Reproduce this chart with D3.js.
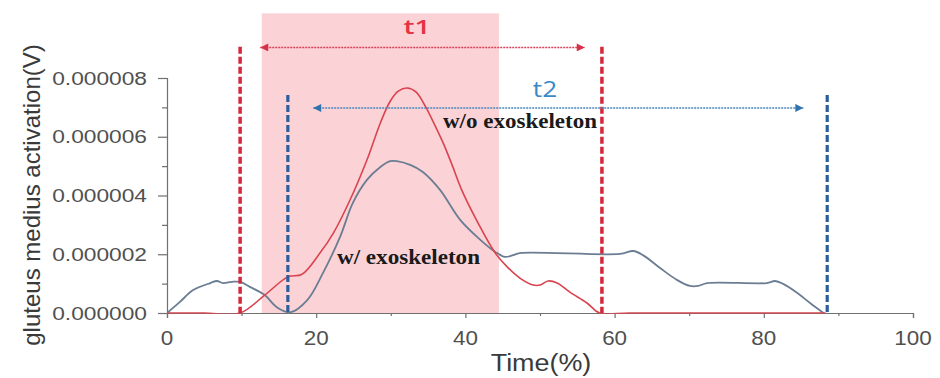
<!DOCTYPE html>
<html>
<head>
<meta charset="utf-8">
<script src="https://cdn.jsdelivr.net/npm/d3@7"></script>
<style>
  html, body { margin: 0; padding: 0; background: #fff; }
  svg { display: block; }
</style>
</head>
<body>
<svg id="chart" width="940" height="378"></svg>
<script>
// ---------- data ----------
const xTicks = [0, 20, 40, 60, 80, 100];
const xMinorTicks = [10, 30, 50, 70, 90];
const yTicks = [0, 0.000002, 0.000004, 0.000006, 0.000008];
const yMinorTicks = [0.000001, 0.000003, 0.000005, 0.000007];

// w/o exoskeleton (red)
const woTime = [0, 5, 9.8, 13.1, 16.2, 18.1, 20.5, 22.3, 24.5, 26.8, 28.6, 29.9, 31.0, 32.2, 33.4, 34.6, 35.8, 37.0, 38.2, 39.5, 41.7, 44.0, 45.6, 47.3, 49.1, 50.0, 51.1, 52.3, 54.0, 56.3, 58.0, 62, 75, 88.3];
const woValue = [0, 0, 0, 0.61e-6, 1.23e-6, 1.32e-6, 2.04e-6, 2.72e-6, 3.83e-6, 5.21e-6, 6.47e-6, 7.20e-6, 7.55e-6, 7.66e-6, 7.52e-6, 7.05e-6, 6.45e-6, 5.80e-6, 5.05e-6, 4.19e-6, 3.06e-6, 2.04e-6, 1.57e-6, 1.19e-6, 0.95e-6, 0.95e-6, 1.09e-6, 1.02e-6, 0.71e-6, 0.34e-6, 0, 0, 0, 0];

// w/ exoskeleton (blue-grey)
const wTime = [0, 1.7, 3.5, 5.8, 6.7, 7.5, 8.7, 9.8, 11.1, 13.1, 14.7, 16.5, 18.8, 20.9, 23.2, 24.9, 26.8, 28.6, 29.9, 30.8, 32.6, 34.3, 36.6, 39.3, 42.0, 44.0, 45.3, 46.4, 47.3, 60.7, 62.5, 63.8, 66.1, 68.4, 70.1, 71.2, 72.4, 80.4, 81.5, 82.6, 84.5, 86.2, 88.0];
const wValue = [0, 0.37e-6, 0.78e-6, 1.02e-6, 1.09e-6, 1.02e-6, 1.06e-6, 1.06e-6, 0.89e-6, 0.61e-6, 0.20e-6, 0.02e-6, 0.44e-6, 1.36e-6, 2.59e-6, 3.74e-6, 4.53e-6, 4.97e-6, 5.17e-6, 5.17e-6, 5.04e-6, 4.80e-6, 4.19e-6, 3.17e-6, 2.49e-6, 2.08e-6, 1.91e-6, 1.97e-6, 2.04e-6, 2.01e-6, 2.11e-6, 1.97e-6, 1.53e-6, 1.12e-6, 0.92e-6, 0.92e-6, 1.02e-6, 1.02e-6, 1.09e-6, 0.99e-6, 0.68e-6, 0.34e-6, 0];

// annotations
const shadeRange = [12.7, 44.5];
const shadeTop = 10.2e-6;
const t1Lines = [9.8, 58.3];
const t1LineTop = 9.06e-6;
const t2Lines = [16.2, 88.5];
const t2LineTop = 7.42e-6;
const t1Arrow = [12.5, 56.0];
const t1ArrowY = 9.04e-6;
const t2Arrow = [19.6, 85.3];
const t2ArrowY = 6.98e-6;
const labels = ["t1", "t2", "w/o exoskeleton", "w/ exoskeleton"];
const xTitle = "Time(%)";
const yTitle = "gluteus medius activation(V)";

// ---------- chart ----------
const svg = d3.select("#chart");
const x = d3.scaleLinear().domain([0, 100]).range([167, 913]);
const y = d3.scaleLinear().domain([0, 0.000008]).range([313, 78]);

const sans = "'Liberation Sans', Arial, sans-serif";
const serif = "'Liberation Serif', 'Times New Roman', serif";

// shaded region
svg.append("rect")
  .attr("x", x(shadeRange[0]))
  .attr("y", y(shadeTop))
  .attr("width", x(shadeRange[1]) - x(shadeRange[0]))
  .attr("height", y(0) - y(shadeTop))
  .attr("fill", "#fbd3d6");

// axes
const axisColor = "#707070";
const xAxis = svg.append("g").attr("transform", `translate(0,${y(0)})`)
  .call(d3.axisBottom(x).tickValues(xTicks).tickSize(5).tickFormat(() => ""));
const xMinor = svg.append("g").attr("transform", `translate(0,${y(0)})`)
  .call(d3.axisBottom(x).tickValues(xMinorTicks).tickSize(3).tickFormat(() => ""));
const yAxis = svg.append("g").attr("transform", `translate(${x(0)},0)`)
  .call(d3.axisLeft(y).tickValues(yTicks).tickSize(9).tickFormat(() => ""));
const yMinor = svg.append("g").attr("transform", `translate(${x(0)},0)`)
  .call(d3.axisLeft(y).tickValues(yMinorTicks).tickSize(5).tickFormat(() => ""));
[xAxis, xMinor, yAxis, yMinor].forEach(g => {
  g.selectAll("path.domain").attr("stroke", axisColor).attr("stroke-width", 1.2);
  g.selectAll("line").attr("stroke", axisColor).attr("stroke-width", 1.2);
});
xMinor.select("path.domain").remove();
yMinor.select("path.domain").remove();

// tick labels (horizontally stretched like the reference)
svg.append("g").selectAll("text").data(xTicks).join("text")
  .attr("transform", d => `translate(${x(d)},345) scale(1.15,1)`)
  .attr("text-anchor", "middle")
  .attr("font-family", sans).attr("font-size", 19.5).attr("fill", "#505050")
  .text(d => d);

const fmt = d3.format(".6f");
svg.append("g").selectAll("text").data(yTicks).join("text")
  .attr("transform", d => `translate(147,${y(d) + 6.5}) scale(1.23,1)`)
  .attr("text-anchor", "end")
  .attr("font-family", sans).attr("font-size", 18.5).attr("fill", "#505050")
  .text(d => fmt(d));

// axis titles
svg.append("text")
  .attr("transform", `translate(541,371) scale(1.17,1)`)
  .attr("text-anchor", "middle")
  .attr("font-family", sans).attr("font-size", 23).attr("fill", "#3a3a3a")
  .text(xTitle);
svg.append("text")
  .attr("transform", `translate(40,195) rotate(-90)`)
  .attr("text-anchor", "middle")
  .attr("font-family", sans).attr("font-size", 24).attr("fill", "#3a3a3a")
  .text(yTitle);

// curves (clipped at the zero line so the spline never dips under the axis)
svg.append("defs").append("clipPath").attr("id", "plotClip")
  .append("rect").attr("x", x(0)).attr("y", 0)
  .attr("width", x(100) - x(0)).attr("height", y(0) + 0.8);
const line = d3.line().x(d => x(d[0])).y(d => y(d[1])).curve(d3.curveCatmullRom.alpha(0.5));
const curves = svg.append("g").attr("clip-path", "url(#plotClip)");
curves.append("path")
  .datum(d3.zip(wTime, wValue))
  .attr("d", line).attr("fill", "none")
  .attr("stroke", "#6b7d93").attr("stroke-width", 1.8);
curves.append("path")
  .datum(d3.zip(woTime, woValue))
  .attr("d", line).attr("fill", "none")
  .attr("stroke", "#d9434f").attr("stroke-width", 1.6);

// dashed vertical markers
svg.append("g").selectAll("line").data(t1Lines).join("line")
  .attr("x1", d => x(d)).attr("x2", d => x(d))
  .attr("y1", y(t1LineTop)).attr("y2", y(0))
  .attr("stroke", "#d4283d").attr("stroke-width", 3.5)
  .attr("stroke-dasharray", "7,3");
svg.append("g").selectAll("line").data(t2Lines).join("line")
  .attr("x1", d => x(d)).attr("x2", d => x(d))
  .attr("y1", y(t2LineTop)).attr("y2", y(0))
  .attr("stroke", "#2c5e9c").attr("stroke-width", 3.2)
  .attr("stroke-dasharray", "7,3");

// arrows
const defs = svg.append("defs");
function marker(id, color) {
  defs.append("marker").attr("id", id)
    .attr("viewBox", "0 0 10 10").attr("refX", 10).attr("refY", 5)
    .attr("markerWidth", 10).attr("markerHeight", 8)
    .attr("markerUnits", "userSpaceOnUse")
    .attr("orient", "auto-start-reverse")
    .append("path").attr("d", "M0,0 L10,5 L0,10 Z").attr("fill", color);
}
marker("arrRed", "#d9304a");
marker("arrBlue", "#2f72ad");
svg.append("line")
  .attr("x1", x(t1Arrow[0])).attr("x2", x(t1Arrow[1]))
  .attr("y1", y(t1ArrowY)).attr("y2", y(t1ArrowY))
  .attr("stroke", "#d9415a").attr("stroke-width", 1.6)
  .attr("stroke-dasharray", "2,1")
  .attr("marker-start", "url(#arrRed)").attr("marker-end", "url(#arrRed)");
svg.append("line")
  .attr("x1", x(t2Arrow[0])).attr("x2", x(t2Arrow[1]))
  .attr("y1", y(t2ArrowY)).attr("y2", y(t2ArrowY))
  .attr("stroke", "#4a86bd").attr("stroke-width", 1.6)
  .attr("stroke-dasharray", "2,1")
  .attr("marker-start", "url(#arrBlue)").attr("marker-end", "url(#arrBlue)");

// labels
svg.append("text")
  .attr("transform", `translate(417,34) scale(1.4,1)`)
  .attr("text-anchor", "middle")
  .attr("font-family", "'Open Sans', sans-serif").attr("font-weight", 600)
  .attr("font-size", 20).attr("fill", "#e53343")
  .text(labels[0]);
svg.append("text")
  .attr("transform", `translate(545,97) scale(1.25,1)`)
  .attr("text-anchor", "middle")
  .attr("font-family", "'Open Sans', sans-serif").attr("font-weight", 400)
  .attr("font-size", 21).attr("fill", "#3a8ac6")
  .text(labels[1]);
svg.append("text")
  .attr("x", 443).attr("y", 128)
  .attr("font-family", serif).attr("font-weight", "bold")
  .attr("font-size", 20).attr("fill", "#1a1a1a")
  .attr("textLength", 154).attr("lengthAdjust", "spacingAndGlyphs")
  .text(labels[2]);
svg.append("text")
  .attr("x", 337).attr("y", 264)
  .attr("font-family", serif).attr("font-weight", "bold")
  .attr("font-size", 20).attr("fill", "#1a1a1a")
  .attr("textLength", 143).attr("lengthAdjust", "spacingAndGlyphs")
  .text(labels[3]);
</script>
</body>
</html>
